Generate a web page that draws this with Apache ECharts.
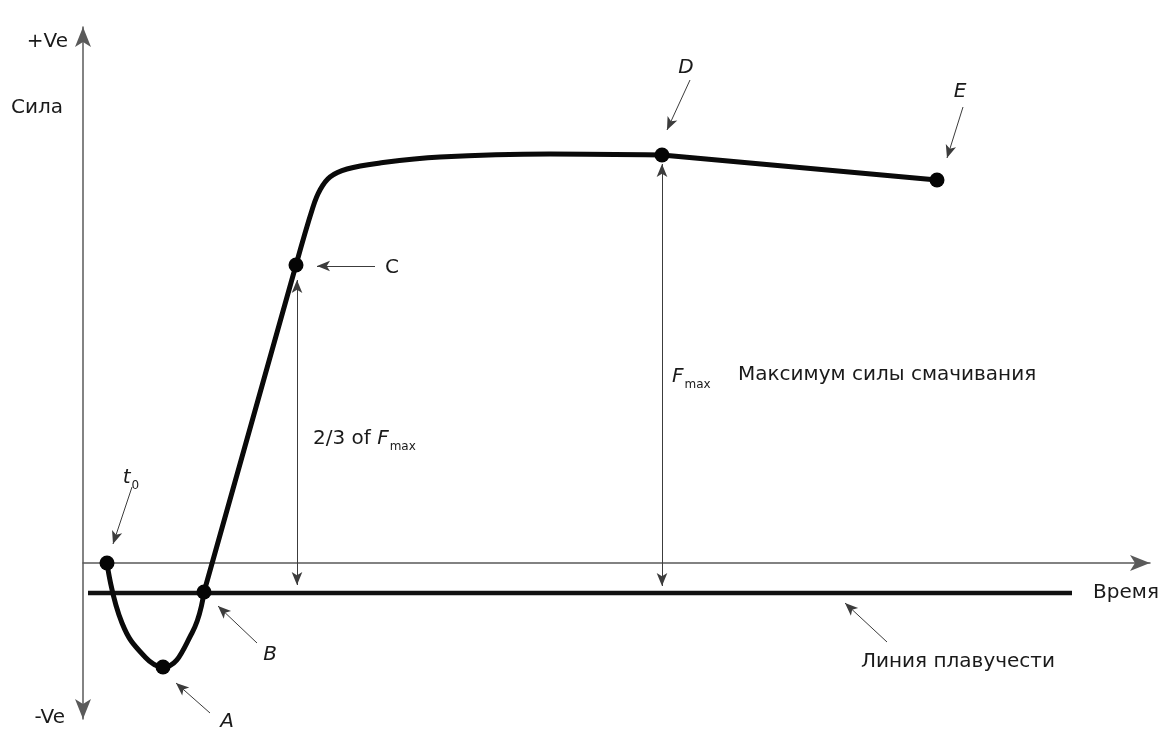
<!DOCTYPE html>
<html>
<head>
<meta charset="utf-8">
<title>Кривая смачивания</title>
<script src="https://cdn.jsdelivr.net/npm/echarts@6/dist/echarts.min.js"></script>
<style>
  html, body { margin: 0; padding: 0; background: #fff; }
  #chart { width: 1163px; height: 731px; }
</style>
</head>
<body>
<div id="chart"></div>
<script>
// wetting curve (time, force), arbitrary units, 0 = time axis
const curveTime  = [2.4, 3.9, 6.2, 8.0, 10.9, 12.1, 21.3, 23.0, 23.7, 24.7, 26.4, 29.7, 35.7, 46.7, 57.9, 85.4]
const curveForce = [0, -6.0, -9.4, -10.4, -7.0, -2.9, 29.8, 35.6, 37.3, 38.6, 39.4, 40.0, 40.6, 40.9, 40.8, 38.3]

// marked points on the curve: name -> index into the curve arrays
const keyNames = ['t0', 'A', 'B', 'C', 'D', 'E']
const keyIndex = [0, 3, 5, 6, 14, 15]

// pieces of the curve: [first index, last index, smoothness]
const curvePieces = [
  [0, 5, 0.45],    // dip t0 - A - B
  [5, 6, false],   // straight rise B - C
  [6, 14, 0.4],    // knee C - D
  [14, 15, false]  // slow drop D - E
]

// buoyancy line
const buoyancyForce = -3.0
const buoyancyStart = 0.5
const buoyancyEnd = 98.9

// pointer arrows [fromTime, fromForce, toTime, toForce]
const pointerArrows = [
  [4.9, 7.6, 3.0, 1.9],      // t0
  [12.7, -15.0, 9.3, -12.0], // A
  [17.4, -8.0, 13.5, -4.3],  // B
  [29.2, 29.7, 23.4, 29.7],  // C
  [60.7, 48.3, 58.4, 43.3],  // D
  [88.0, 45.6, 86.4, 40.5],  // E
  [80.4, -7.9, 76.2, -4.0],  // buoyancy line
]

// double arrows: [time, fromForce, toForce]
const spanArrows = [
  [21.4, 28.3, -2.2], // 2/3 of Fmax
  [57.9, 39.9, -2.3], // Fmax
]

// text labels [time, force, text, anchor]
const labelItems = [
  [-1.5, 52.1, '+Ve', 'left'],
  [-4.6, 45.5, 'Сила', 'inside'],
  [-1.8, -15.5, '-Ve', 'left'],
  [104.3, -3.0, 'Время', 'inside'],
  [87.5, -9.9, 'Линия плавучести', 'inside'],
  [14.4, -15.9, '{i|A}', 'inside'],
  [18.7, -9.2, '{i|B}', 'inside'],
  [30.9, 29.5, 'C', 'inside'],
  [60.3, 49.5, '{i|D}', 'inside'],
  [87.7, 47.1, '{i|E}', 'inside'],
  [4.8, 8.5, '{i|t}{sub|0}', 'inside'],
  [23.0, 12.4, '2/3 of {i|F}{sub|max}', 'right'],
  [58.9, 18.6, '{i|F}{sub|max}', 'right'],
  [65.5, 18.8, 'Максимум силы смачивания', 'right'],
]

const FONT = 'DejaVu Sans'
const TEXT = '#1a1a1a'

const chart = echarts.init(document.getElementById('chart'))

const curveData = curveTime.map((t, i) => [t, curveForce[i]])
const keyData = keyNames.map((n, i) => ({ name: n, value: curveData[keyIndex[i]] }))

const curveSeries = curvePieces.map(p => ({
  name: 'curve',
  type: 'line',
  smooth: p[2],
  symbol: 'none',
  data: curveData.slice(p[0], p[1] + 1),
  lineStyle: { color: '#0a0a0a', width: 5, cap: 'round', join: 'round' },
  z: 4,
}))

const pointerLines = pointerArrows.map(a => [
  { coord: [a[0], a[1]], symbol: 'none' },
  { coord: [a[2], a[3]], symbol: 'arrow' },
])
const spanLines = spanArrows.map(a => [
  { coord: [a[0], a[1]], symbol: 'arrow' },
  { coord: [a[0], a[2]], symbol: 'arrow' },
])

const labelData = labelItems.map(l => ({
  value: [l[0], l[1]],
  name: l[2],
  label: { position: l[3], distance: 0 },
}))

chart.setOption({
  animation: false,
  backgroundColor: '#fff',
  grid: { left: 83, right: 13, top: 27, bottom: 12 },
  xAxis: {
    type: 'value',
    min: 0,
    max: 106.7,
    axisLine: {
      onZero: true,
      symbol: ['none', 'arrow'],
      symbolSize: [12, 20],
      lineStyle: { color: '#5a5a5a', width: 1.5 },
    },
    axisTick: { show: false },
    axisLabel: { show: false },
    splitLine: { show: false },
  },
  yAxis: {
    type: 'value',
    min: -15.6,
    max: 53.6,
    axisLine: {
      show: true,
      onZero: false,
      symbol: ['arrow', 'arrow'],
      symbolSize: [12, 20],
      lineStyle: { color: '#5a5a5a', width: 1.5 },
    },
    axisTick: { show: false },
    axisLabel: { show: false },
    splitLine: { show: false },
  },
  series: [
    {
      name: 'buoyancy',
      type: 'line',
      symbol: 'none',
      data: [[buoyancyStart, buoyancyForce], [buoyancyEnd, buoyancyForce]],
      lineStyle: { color: '#111', width: 4.5 },
      z: 3,
    },
    {
      name: 'arrows',
      type: 'line',
      data: [],
      markLine: {
        silent: true,
        symbolSize: [8, 13],
        label: { show: false },
        lineStyle: { color: '#3c3c3c', width: 1, type: 'solid' },
        emphasis: { disabled: true },
        data: pointerLines.concat(spanLines),
      },
      z: 2,
    },
    ...curveSeries,
    {
      name: 'points',
      type: 'scatter',
      symbolSize: 15,
      itemStyle: { color: '#050505', opacity: 1 },
      data: keyData,
      z: 5,
    },
    {
      name: 'labels',
      type: 'scatter',
      symbolSize: 0,
      clip: false,
      silent: true,
      itemStyle: { opacity: 1 },
      data: labelData,
      label: {
        show: true,
        formatter: p => p.name,
        color: TEXT,
        fontFamily: FONT,
        fontSize: 20,
        rich: {
          i: { fontStyle: 'italic', fontSize: 20, fontFamily: FONT, color: TEXT },
          sub: { fontSize: 12, fontFamily: FONT, color: TEXT, padding: [15, 0, 0, 1] },
        },
      },
      z: 6,
    },
  ],
})
</script>
</body>
</html>
